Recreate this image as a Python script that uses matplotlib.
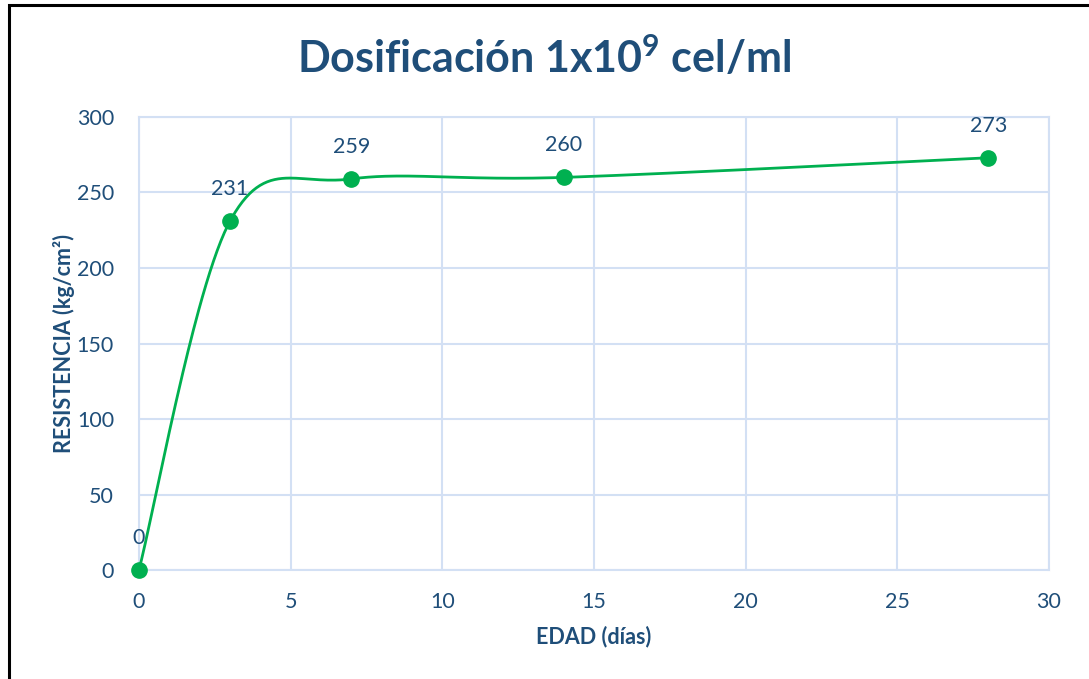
import numpy as np
import matplotlib
matplotlib.use('Agg')
import matplotlib.pyplot as plt
from matplotlib.patches import Rectangle

# Datos del ensayo
edad_dias = [0, 3, 7, 14, 28]
resistencia = [0, 231, 259, 260, 273]
x_ticks = [0, 5, 10, 15, 20, 25, 30]
y_ticks = [0, 50, 100, 150, 200, 250, 300]

AZUL = '#1F4E79'
VERDE = '#00B050'
REJILLA = '#D3E0F4'

plt.rcParams['font.family'] = ['Lato', 'DejaVu Sans']
plt.rcParams['mathtext.fontset'] = 'custom'
plt.rcParams['mathtext.bf'] = 'Lato:bold'
plt.rcParams['mathtext.rm'] = 'Lato'


def suavizar(xs, ys, n=60):
    # curva tipo "línea suavizada": Bezier cúbica con tangentes Catmull-Rom
    px = np.r_[xs[0], xs, xs[-1]].astype(float)
    py = np.r_[ys[0], ys, ys[-1]].astype(float)
    out_x, out_y = [], []
    t = np.linspace(0, 1, n)
    for i in range(1, len(px) - 2):
        p0 = np.array([px[i], py[i]])
        p3 = np.array([px[i + 1], py[i + 1]])
        p1 = p0 + (np.array([px[i + 1], py[i + 1]]) - np.array([px[i - 1], py[i - 1]])) / 6
        p2 = p3 - (np.array([px[i + 2], py[i + 2]]) - np.array([px[i], py[i]])) / 6
        b = ((1 - t) ** 3)[:, None] * p0 + (3 * (1 - t) ** 2 * t)[:, None] * p1 \
            + (3 * (1 - t) * t ** 2)[:, None] * p2 + (t ** 3)[:, None] * p3
        out_x.extend(b[:, 0])
        out_y.extend(b[:, 1])
    return out_x, out_y


fig = plt.figure(figsize=(10.89, 6.79), dpi=100)
ax = fig.add_axes([0.1276, 0.1605, 0.8357, 0.6672])

# marco exterior
fig.patches.append(Rectangle((9 / 1089, -0.1), 1.2, 1.1 - 5 / 679,
                             transform=fig.transFigure, fill=False,
                             edgecolor='black', linewidth=2.2))

sx, sy = suavizar(edad_dias, resistencia)
ax.plot(sx, sy, color=VERDE, linewidth=2, zorder=3, clip_on=False)
ax.plot(edad_dias, resistencia, 'o', color=VERDE, markersize=11, zorder=4, clip_on=False)

for x, y in zip(edad_dias, resistencia):
    ax.annotate(str(y), (x, y), xytext=(0, 23), textcoords='offset points',
                ha='center', va='center', fontsize=15.5, color=AZUL)

ax.set_xlim(0, 30)
ax.set_ylim(0, 300)
ax.set_xticks(x_ticks)
ax.set_yticks(y_ticks)
ax.grid(True, color=REJILLA, linewidth=1.5)
ax.set_axisbelow(True)
for s in ax.spines.values():
    s.set_color(REJILLA)
    s.set_linewidth(1.5)
ax.tick_params(length=0, labelsize=15.5, labelcolor=AZUL)
ax.tick_params(axis='x', pad=16)
ax.tick_params(axis='y', pad=18)

ax.set_xlabel('EDAD (días)', fontsize=15.5, fontweight='bold', color=AZUL, labelpad=10)
ax.set_ylabel('RESISTENCIA (kg/cm²)', fontsize=15.5, fontweight='bold', color=AZUL, labelpad=1)

fig.text(0.5, 0.915, r'Dosificación 1x10$^{\mathbf{9}}$ cel/ml', ha='center', va='center',
         fontsize=31, fontweight='bold', color=AZUL)

fig.savefig('out.png', dpi=100)
